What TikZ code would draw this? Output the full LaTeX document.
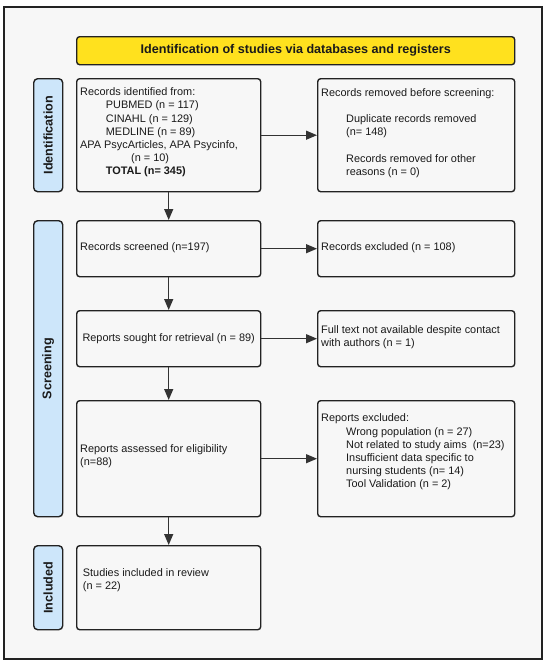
\documentclass[tikz,border=0pt]{standalone}
\usepackage{fontspec}
\setmainfont{Liberation Sans}
\usetikzlibrary{arrows.meta}
\definecolor{bg}{RGB}{247,247,247}
\definecolor{hdr}{RGB}{255,225,30}
\definecolor{lbl}{RGB}{205,230,250}
\definecolor{edge}{RGB}{34,34,34}
\definecolor{arr}{RGB}{51,51,51}
\definecolor{ink}{RGB}{26,26,26}
\begin{document}
\begin{tikzpicture}[x=1pt,y=-1pt,
  box/.style={draw=edge, line width=1.4pt, rounded corners=3pt, fill=bg, anchor=north west, inner sep=0pt},
  hdrbox/.style={box, fill=hdr},
  lblbox/.style={box, rounded corners=4pt, fill=lbl},
  txt/.style={font=\fontsize{10.9}{13.2}\selectfont, align=left, inner sep=0pt, anchor=west, text=ink},
  boldtxt/.style={font=\fontsize{12.6}{15}\selectfont\bfseries, inner sep=0pt, text=ink},
  flow/.style={draw=arr, line width=1.2pt, -{Triangle[length=11pt,width=9pt]}}]
\useasboundingbox (0,0) rectangle (550,664);
\fill[white] (0,0) rectangle (550,664);
\draw[fill=bg, draw=edge, line width=2pt] (4,7) rectangle (542,659);

% header
\node[hdrbox, minimum width=438pt, minimum height=28pt] (hdr) at (76,36) {};
\node[boldtxt] (hdrt) at (hdr.center) {Identification of studies via databases and registers};

% phase labels
\node[lblbox, minimum width=29pt, minimum height=113pt] (L1) at (33,78) {};
\node[lblbox, minimum width=29pt, minimum height=296pt] (L2) at (33,220) {};
\node[lblbox, minimum width=29pt, minimum height=84pt] (L3) at (33,545) {};
\node[boldtxt, rotate=90] (L1t) at (L1.center) {Identification};
\node[boldtxt, rotate=90] (L2t) at (L2.center) {Screening};
\node[boldtxt, rotate=90] (L3t) at (L3.center) {Included};

% left column boxes
\node[box, minimum width=184pt, minimum height=113pt] (b1) at (76,78) {};
\node[box, minimum width=184pt, minimum height=56pt] (b2) at (76,220) {};
\node[box, minimum width=184pt, minimum height=56pt] (b3) at (76,310) {};
\node[box, minimum width=184pt, minimum height=116pt] (b4) at (76,400) {};
\node[box, minimum width=184pt, minimum height=84pt] (b5) at (76,545) {};

% right column boxes
\node[box, minimum width=197pt, minimum height=113pt] (r1) at (317,78) {};
\node[box, minimum width=197pt, minimum height=56pt] (r2) at (317,220) {};
\node[box, minimum width=197pt, minimum height=56pt] (r3) at (317,310) {};
\node[box, minimum width=197pt, minimum height=116pt] (r4) at (317,400) {};

% texts
\node[txt] (t1) at (80,132.5) {Records identified from:\\
\hspace*{25.7pt}PUBMED (n = 117)\\
\hspace*{25.7pt}CINAHL (n = 129)\\
\hspace*{25.7pt}MEDLINE (n = 89)\\
APA PsycArticles, APA Psycinfo,\\
\hspace*{51pt}(n = 10)\\
\hspace*{25.7pt}\textbf{TOTAL (n= 345)}};
\node[txt] (s1) at (321,133) {Records removed before screening:\\[13pt]
\hspace*{25pt}Duplicate records removed\\
\hspace*{25pt}(n= 148)\\[13pt]
\hspace*{25pt}Records removed for other\\
\hspace*{25pt}reasons (n = 0)};

\node[txt] (t2) at (80,247.5) {Records screened (n=197)};
\node[txt] (s2) at (321,247.5) {Records excluded (n = 108)};

\node[txt, anchor=center] (t3) at (b3.center) {Reports sought for retrieval (n = 89)};
\node[txt] (s3) at (321,337.5) {Full text not available despite contact\\with authors (n = 1)};

\node[txt] (t4) at (80,456) {Reports assessed for eligibility\\(n=88)};
\node[txt] (s4) at (321,452) {Reports excluded:\\
\hspace*{25pt}Wrong population (n = 27)\\
\hspace*{25pt}Not related to study aims\ \ (n=23)\\
\hspace*{25pt}Insufficient data specific to\\
\hspace*{25pt}nursing students (n= 14)\\
\hspace*{25pt}Tool Validation (n = 2)};

\node[txt] (t5) at (82.7,580) {Studies included in review\\(n = 22)};

% connectors
\draw[flow] (b1.south) -- (b2.north);
\draw[flow] (b2.south) -- (b3.north);
\draw[flow] (b3.south) -- (b4.north);
\draw[flow] (b4.south) -- (b5.north);
\draw[flow] (b1.east) -- (b1.east -| r1.west);
\draw[flow] (b2.east) -- (b2.east -| r2.west);
\draw[flow] (b3.east) -- (b3.east -| r3.west);
\draw[flow] (b4.east) -- (b4.east -| r4.west);
\end{tikzpicture}
\end{document}
